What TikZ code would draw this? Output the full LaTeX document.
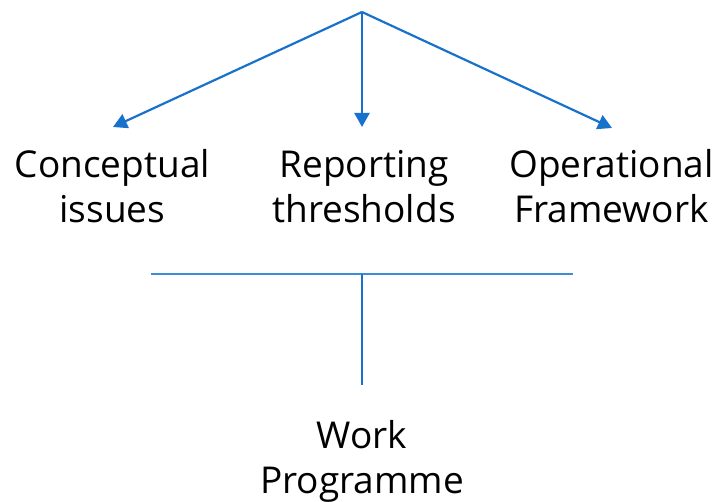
\documentclass[tikz,border=0pt]{standalone}
\usepackage{fontspec}
\setmainfont{Open Sans}
\usetikzlibrary{arrows.meta}
\definecolor{arrowblue}{RGB}{24,114,204}
\definecolor{lineblue}{RGB}{60,140,216}
\tikzset{
  lbl/.style={align=center, inner sep=0pt, anchor=base, font=\fontsize{37}{45}\selectfont},
  arr/.style={draw=arrowblue, line width=2.2pt, -{Triangle[length=14pt,width=15pt]}},
  hline/.style={draw=lineblue, line width=1.5pt},
  vline/.style={draw=arrowblue, line width=1.4pt}
}
\begin{document}
\begin{tikzpicture}[x=1pt,y=-1pt]
\useasboundingbox (0,0) rectangle (718,502);
\coordinate (top) at (362,12);
\coordinate (tl) at (113,127);
\coordinate (tm) at (362,127);
\coordinate (tr) at (612,128);
\draw[arr] (top) -- (tl);
\draw[arr] (top) -- (tm);
\draw[arr] (top) -- (tr);
\node[lbl] (ci) at (112.5,223) {Conceptual\\issues};
\node[lbl] (rt) at (364,223) {Reporting\\thresholds};
\node[lbl] (of) at (611.5,223) {Operational\\Framework};
\coordinate (hl) at (151,274);
\coordinate (hr) at (573,274);
\coordinate (hm) at (362,274);
\coordinate (vb) at (362,385);
\draw[hline] (hl) -- (hr);
\draw[vline] (hm) -- (vb);
\node[lbl] (wp) at (362,494) {Work\\Programme};
\end{tikzpicture}
\end{document}
